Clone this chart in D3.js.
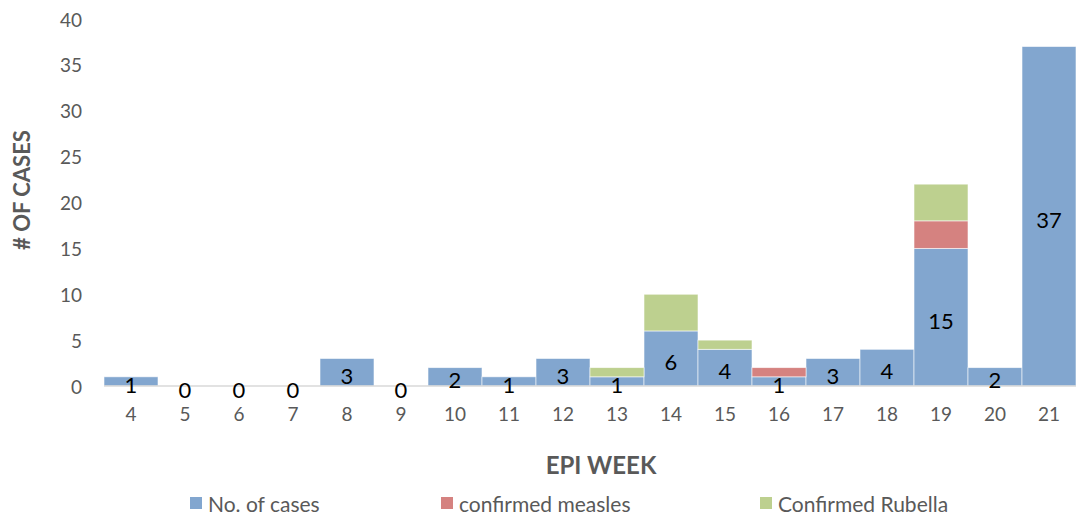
<!DOCTYPE html>
<html lang="en">
<head>
  <meta charset="UTF-8">
  <title>EPI week cases</title>
  <script src="https://cdn.jsdelivr.net/npm/d3@7"></script>
  <style>
    body { margin: 0; padding: 0; background: #fff; }
    svg text { font-family: Lato, "Open Sans", sans-serif; }
  </style>
</head>
<body>
<div id="chart"></div>
<script>
// data
var weeks = ["4","5","6","7","8","9","10","11","12","13","14","15","16","17","18","19","20","21"];
var cases    = [1,0,0,0,3,0,2,1,3,1,6,4,1,3,4,15,2,37];
var measles  = [0,0,0,0,0,0,0,0,0,0,0,0,1,0,0,3,0,0];
var rubella  = [0,0,0,0,0,0,0,0,0,1,4,1,0,0,0,4,0,0];
var yTicks   = [0,5,10,15,20,25,30,35,40];
var seriesNames = ["No. of cases", "confirmed measles", "Confirmed Rubella"];
var colors = ["#82a6cf", "#d58280", "#bdd08f"];

var W = 1076, H = 514;
var m = {left: 104, right: 0, top: 19, bottom: 128};

var svg = d3.select("#chart").append("svg")
    .attr("width", W).attr("height", H);

var x = d3.scaleBand().domain(weeks).range([m.left, W - m.right]).padding(0);
var y = d3.scaleLinear().domain([0, 40]).range([H - m.bottom, m.top]);

var rows = weeks.map(function(w, i) {
  return {week: w, cases: cases[i], measles: measles[i], rubella: rubella[i]};
});
var stack = d3.stack().keys(["cases", "measles", "rubella"]);
var layers = stack(rows);

var g = svg.selectAll("g.layer")
    .data(layers).enter().append("g")
    .attr("class", "layer")
    .attr("fill", function(d, i) { return colors[i]; });

g.selectAll("rect")
    .data(function(d) { return d; })
    .enter().append("rect")
    .attr("x", function(d) { return x(d.data.week); })
    .attr("width", x.bandwidth())
    .attr("y", function(d) { return y(d[1]); })
    .attr("height", function(d) { return y(d[0]) - y(d[1]); })
    .attr("stroke", "#fff")
    .attr("stroke-width", 0.8)
    .attr("stroke-opacity", function(d) { return d[1] > d[0] ? 0.7 : 0; });

// baseline
svg.append("line")
    .attr("x1", m.left).attr("x2", W - m.right)
    .attr("y1", y(0)).attr("y2", y(0))
    .attr("stroke", "#d9d9d9").attr("stroke-width", 1.5);

// y axis labels
var yAxis = d3.axisLeft(y).tickValues(yTicks).tickSize(0).tickPadding(0);
var ya = svg.append("g").attr("transform", "translate(82,1)").call(yAxis);
ya.select(".domain").remove();
ya.selectAll("text").attr("fill", "#595959").attr("font-size", "19px")
  .style("font-family", "Lato, 'Open Sans', sans-serif");

// x axis labels
var xAxis = d3.axisBottom(x).tickSize(0).tickPadding(0);
var xa = svg.append("g").attr("transform", "translate(0," + (y(0) + 21) + ")").call(xAxis);
xa.select(".domain").remove();
xa.selectAll("text").attr("fill", "#595959").attr("font-size", "19px")
  .style("font-family", "Lato, 'Open Sans', sans-serif");

// data labels for No. of cases
svg.append("g").selectAll("text")
    .data(rows).enter().append("text")
    .attr("x", function(d) { return x(d.week) + x.bandwidth() / 2; })
    .attr("y", function(d) { return (y(0) + y(d.cases)) / 2 + 3; })
    .attr("text-anchor", "middle")
    .attr("dominant-baseline", "central")
    .attr("font-size", "22px")
    .attr("fill", "#000")
    .text(function(d) { return d.cases; });

// axis titles
svg.append("text")
    .attr("transform", "translate(21,190) rotate(-90)")
    .attr("text-anchor", "middle")
    .attr("dominant-baseline", "central")
    .attr("font-size", "22px").attr("font-weight", "bold")
    .attr("fill", "#595959")
    .text("# OF CASES");

svg.append("text")
    .attr("x", 601).attr("y", 464)
    .attr("text-anchor", "middle")
    .attr("dominant-baseline", "central")
    .attr("font-size", "24px").attr("font-weight", "bold")
    .attr("fill", "#595959")
    .text("EPI WEEK");

// legend
var legendX = [190, 441, 760];
var lg = svg.append("g").selectAll("g")
    .data(seriesNames).enter().append("g")
    .attr("transform", function(d, i) { return "translate(" + legendX[i] + ",503)"; });
lg.append("rect")
    .attr("x", 0).attr("y", -6).attr("width", 12).attr("height", 12)
    .attr("fill", function(d, i) { return colors[i]; });
lg.append("text")
    .attr("x", 18).attr("y", 0)
    .attr("dominant-baseline", "central")
    .attr("font-size", "21px")
    .attr("fill", "#595959")
    .text(function(d) { return d; });
</script>
</body>
</html>
